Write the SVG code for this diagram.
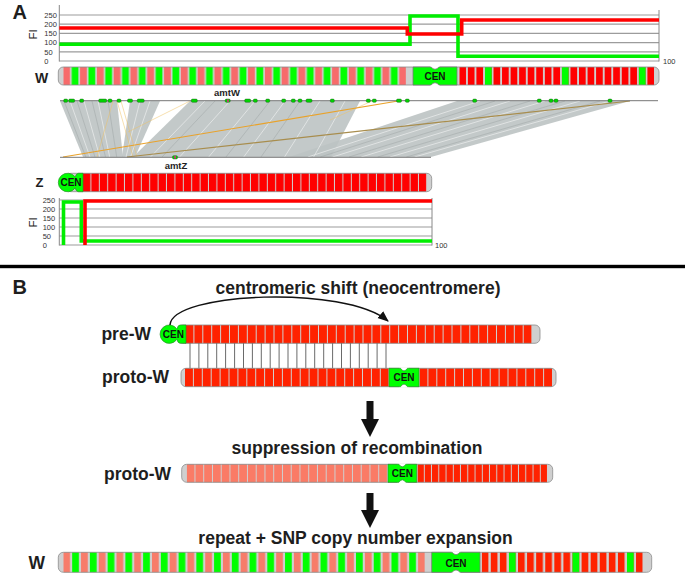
<svg xmlns="http://www.w3.org/2000/svg" width="685" height="574" viewBox="0 0 685 574">
<defs>
<style>
.lbl{font-family:"Liberation Sans",Arial,sans-serif;font-weight:bold;fill:#1e1e1e}
.tick{font-family:"Liberation Sans",Arial,sans-serif;font-size:7.5px;fill:#333}
.fi{font-family:"Liberation Sans",Arial,sans-serif;font-size:11.5px;fill:#222}
.cen{font-family:"Liberation Sans",Arial,sans-serif;font-weight:bold;font-size:10px;fill:#111;text-anchor:middle}
.grid{stroke:#9c9c9c;stroke-width:1.2;fill:none}
.axis{stroke:#888;stroke-width:1;fill:none}
.chr{fill:#cfcfcf}
.out{fill:none;stroke:#8c8c8c;stroke-width:0.8}
.cenA{fill:#00ff00;stroke:#7a7a7a;stroke-width:0.8}
.cenB{fill:#00ff00;stroke:#2c8c2c;stroke-width:0.7}
.rib{fill:#bcc3c3;opacity:0.9}
.wl{stroke:#fff;stroke-width:0.9;opacity:0.55}
.dl{stroke:#98a0a0;stroke-width:0.6;opacity:0.7}
.mk{fill:#00d400;stroke:#1d6a1d;stroke-width:0.5}
.gl{fill:none;stroke:#00ee00;stroke-width:3.6}
.rlin{fill:none;stroke:#ff0000;stroke-width:3.6}
</style>
<pattern id="pSG" width="16.8" height="40" patternUnits="userSpaceOnUse"><rect width="6.7" height="40" fill="#f76b6b"/><rect x="8.4" width="6.7" height="40" fill="#00ff00"/></pattern>
<pattern id="pR1" width="8.55" height="40" patternUnits="userSpaceOnUse"><rect width="6.7" height="40" fill="#ff0000"/></pattern>
<pattern id="pRZ" width="8.4" height="40" patternUnits="userSpaceOnUse"><rect width="7.4" height="40" fill="#ff0000"/></pattern>
<pattern id="pRB" width="8.9" height="40" patternUnits="userSpaceOnUse"><rect width="7.9" height="40" fill="#ff2200"/></pattern>
<pattern id="pRB2" width="7.25" height="40" patternUnits="userSpaceOnUse"><rect width="6.3" height="40" fill="#ff2200"/></pattern>
<pattern id="pSB" width="8.75" height="40" patternUnits="userSpaceOnUse"><rect width="7.75" height="40" fill="#fa7b66"/></pattern>
<pattern id="pSGB" width="17.74" height="40" patternUnits="userSpaceOnUse"><rect width="6.7" height="40" fill="#f77c6a"/><rect x="8.87" width="6.7" height="40" fill="#00ff00"/></pattern>
<pattern id="pRW" width="9.08" height="40" patternUnits="userSpaceOnUse"><rect width="6.7" height="40" fill="#ff2200"/></pattern>
<marker id="ah" markerUnits="userSpaceOnUse" markerWidth="12" markerHeight="10" refX="10" refY="4.5" orient="auto"><path d="M0,0 L11,4.5 L0,9 Z" fill="#111"/></marker>
</defs>
<rect width="685" height="574" fill="#fff"/>

<!-- Panel A -->
<text class="lbl" x="12.5" y="18.5" font-size="20">A</text>

<g id="chartW">
<path class="grid" d="M59.3,15H659M59.3,24.2H659M59.3,33.4H659M59.3,42.6H659M59.3,51.8H659M59.3,61H659"/>
<path class="axis" d="M59.3,5V61.5M659,10V61.5"/>
<text class="tick" x="44.3" y="17.7">250</text>
<text class="tick" x="44.3" y="26.9">200</text>
<text class="tick" x="44.3" y="36.1">150</text>
<text class="tick" x="44.3" y="45.3">100</text>
<text class="tick" x="44.3" y="54.5">50</text>
<text class="tick" x="44.3" y="63.7">0</text>
<text class="tick" x="663" y="64">100</text>
<text class="fi" text-anchor="middle" transform="translate(36.5,34.3) rotate(-90)">FI</text>
<path class="gl" d="M59.3,44.3H410V16H458V56.3H659"/>
<path class="rlin" d="M59.3,28H407.3V34H461.7V20H659"/>
</g>

<g id="chrW-top">
<text class="lbl" x="48.3" y="82.5" font-size="14" text-anchor="end">W</text>
<rect x="58.3" y="67" width="600.7" height="18" rx="5" class="chr"/>
<rect width="342.7" height="18" fill="url(#pSG)" transform="translate(63.3,67)"/>
<rect width="194.8" height="18" fill="url(#pR1)" transform="translate(459.3,67)"/>
<path d="M485,67h6.7v18h-6.7zM561.9,67h6.7v18h-6.7zM638.9,67h6.7v18h-6.7z" fill="#00ff00"/>
<rect x="58.3" y="67" width="600.7" height="18" rx="5" class="out"/>
<path d="M430,66H440V70.5H430ZM430,81.5H440V86H430Z" fill="#fff"/>
<path d="M413,67H431Q435,71.5 439,67H457V85H439Q435,80.5 431,85H413Z" class="cenA"/>
<text class="cen" x="435" y="80.2">CEN</text>
</g>

<g id="synteny">
<polygon class="rib" points="60,101 117,101 123,157 83,157"/>
<polygon class="rib" points="130,101 160,101 135,157 122,157"/>
<polygon class="rib" points="190,101 360,101 331,157 133,157"/>
<polygon class="rib" points="457,101 630,101 431,157 289,157"/>
<path class="wl" d="M70,101L90,157M84,101L99.8,157M98,101L109.7,157M140,101L126,157M150,101L130.5,157M205,101L150.5,157M230,101L179.6,157M255,101L208.7,157M285,101L243.7,157M320,101L284.5,157M345,101L313.6,157M480,101L307.9,157M510,101L332.5,157M545,101L361.2,157M580,101L390,157M610,101L414.6,157"/>
<path class="dl" d="M64,101L85.8,157M77,101L95,157M92,101L105.5,157M108,101L116.7,157M215,101L162,157M270,101L226,157M300,101L261,157M495,101L320.2,157M530,101L349,157M565,101L377.7,157M600,101L406.4,157"/>
<path d="M117,101L133,157M121,101L137,157M113,101L97,157M190,101L128,132M372,101L330,120" stroke="#f0c262" stroke-width="0.6" fill="none" opacity="0.85"/>
<path d="M63,157L398,101" stroke="#e9a22a" stroke-width="1.1" fill="none"/>
<path d="M127,157L630,101" stroke="#a88d4d" stroke-width="1.1" fill="none"/>
<path d="M60,100.7H658M60,157.3H431" stroke="#777" stroke-width="1" fill="none"/>
<g id="markers">
<rect class="mk" x="63.7" y="99.1" width="4" height="3.2" rx="1.2"/>
<rect class="mk" x="68.7" y="99.1" width="6" height="3.2" rx="1.2"/>
<rect class="mk" x="79.7" y="99.1" width="4" height="3.2" rx="1.2"/>
<rect class="mk" x="98.7" y="99.1" width="8" height="3.2" rx="1.2"/>
<rect class="mk" x="108" y="99.1" width="4" height="3.2" rx="1.2"/>
<rect class="mk" x="117" y="99.1" width="4" height="3.2" rx="1.2"/>
<rect class="mk" x="127.5" y="99.1" width="5" height="3.2" rx="1.2"/>
<rect class="mk" x="137.2" y="99.1" width="7" height="3.2" rx="1.2"/>
<rect class="mk" x="191.3" y="99.1" width="6" height="3.2" rx="1.2"/>
<rect class="mk" x="225.2" y="99.1" width="5" height="3.2" rx="1.2"/>
<rect x="227" y="99.4" width="1.8" height="2.6" fill="#d0307a"/>
<rect class="mk" x="244.7" y="99.1" width="6" height="3.2" rx="1.2"/>
<rect class="mk" x="253.3" y="99.1" width="4" height="3.2" rx="1.2"/>
<rect class="mk" x="265.7" y="99.1" width="4" height="3.2" rx="1.2"/>
<rect class="mk" x="281.7" y="99.1" width="4" height="3.2" rx="1.2"/>
<rect class="mk" x="291.3" y="99.1" width="4" height="3.2" rx="1.2"/>
<rect class="mk" x="298" y="99.1" width="4" height="3.2" rx="1.2"/>
<rect class="mk" x="306" y="99.1" width="6" height="3.2" rx="1.2"/>
<rect class="mk" x="330.3" y="99.1" width="4" height="3.2" rx="1.2"/>
<rect class="mk" x="366.3" y="99.1" width="4" height="3.2" rx="1.2"/>
<rect class="mk" x="372.3" y="99.1" width="4" height="3.2" rx="1.2"/>
<rect class="mk" x="396.5" y="99.1" width="5" height="3.2" rx="1.2"/>
<rect class="mk" x="405.3" y="99.1" width="4" height="3.2" rx="1.2"/>
<rect class="mk" x="472.7" y="99.1" width="4" height="3.2" rx="1.2"/>
<rect class="mk" x="537.3" y="99.1" width="4" height="3.2" rx="1.2"/>
<rect class="mk" x="549" y="99.1" width="4" height="3.2" rx="1.2"/>
<rect class="mk" x="554" y="99.1" width="4" height="3.2" rx="1.2"/>
<rect class="mk" x="608" y="99.1" width="4" height="3.2" rx="1.2"/>
<rect class="mk" x="172.5" y="155.7" width="5" height="3.2" rx="1.2"/>
<rect x="174.2" y="156" width="1.8" height="2.6" fill="#d0307a"/>
</g>
<text class="lbl" x="227" y="96" font-size="9.5" text-anchor="middle">amtW</text>
<text class="lbl" x="176" y="168.5" font-size="9.5" text-anchor="middle">amtZ</text>
</g>

<g id="chrZ">
<text class="lbl" x="43.5" y="187" font-size="13" text-anchor="end">Z</text>
<rect x="66" y="173.3" width="365.7" height="18.4" rx="5" class="chr"/>
<rect width="343.4" height="18.4" fill="url(#pRZ)" transform="translate(83,173.3)"/>
<rect x="66" y="173.3" width="365.7" height="18.4" rx="5" class="out"/>
<path d="M83,173.3H78.5Q76,173.5 75.2,177.1A9.3 9.3 0 1 0 75.2,187.9Q76,191.5 78.5,191.7H83Z" class="cenB"/>
<text class="cen" x="71" y="186.3" font-size="9.5">CEN</text>
</g>

<g id="chartZ">
<path class="grid" d="M59.3,200H432M59.3,209H432M59.3,218H432M59.3,227H432M59.3,236H432M59.3,245H432"/>
<path class="axis" d="M59.3,198V245.5M432,198V245.5"/>
<text class="tick" x="42.7" y="202.7">250</text>
<text class="tick" x="42.7" y="211.7">200</text>
<text class="tick" x="42.7" y="220.7">150</text>
<text class="tick" x="42.7" y="229.7">100</text>
<text class="tick" x="42.7" y="238.7">50</text>
<text class="tick" x="42.7" y="247.7">0</text>
<text class="tick" x="435" y="248">100</text>
<text class="fi" text-anchor="middle" transform="translate(36.5,222.5) rotate(-90)">FI</text>
<path class="gl" d="M63.5,245V202H81.3V241H432"/>
<path class="rlin" d="M85,245V201H432"/>
</g>

<rect x="0" y="264.8" width="685" height="3.4" fill="#000"/>

<!-- Panel B -->
<text class="lbl" x="12.5" y="294" font-size="20">B</text>
<text class="lbl" x="358" y="294" font-size="17.5" text-anchor="middle">centromeric shift (neocentromere)</text>

<g id="preW">
<text class="lbl" x="151" y="340" font-size="17.5" text-anchor="end">pre-W</text>
<rect x="178" y="325" width="362" height="18.3" rx="5" class="chr"/>
<rect width="346.1" height="18.3" fill="url(#pRB)" transform="translate(185.5,325)"/>
<rect x="178" y="325" width="362" height="18.3" rx="5" class="out"/>
<path d="M186,325H180Q177.6,325.3 177,329.2A9.2 9.2 0 1 0 177,339.2Q177.6,343 180,343.3H186Z" class="cenB"/>
<text class="cen" x="173.3" y="338">CEN</text>
</g>

<g id="ladder">
<path d="M190,343.3V368.3M198.9,343.3V368.3M207.8,343.3V368.3M216.7,343.3V368.3M225.6,343.3V368.3M234.6,343.3V368.3M243.5,343.3V368.3M252.4,343.3V368.3M261.3,343.3V368.3M270.2,343.3V368.3M279.1,343.3V368.3M288,343.3V368.3M296.9,343.3V368.3M305.8,343.3V368.3M314.7,343.3V368.3M323.7,343.3V368.3M332.6,343.3V368.3M341.5,343.3V368.3M350.4,343.3V368.3M359.3,343.3V368.3M368.2,343.3V368.3M377.1,343.3V368.3M386,343.3V368.3" stroke="#444" stroke-width="0.8" fill="none"/>
</g>

<g id="protoW1">
<text class="lbl" x="169" y="383" font-size="17.5" text-anchor="end">proto-W</text>
<rect x="181" y="368.3" width="375" height="18.4" rx="5" class="chr"/>
<rect width="203.7" height="18.4" fill="url(#pRB)" transform="translate(185,368.3)"/>
<rect width="132.5" height="18.4" fill="url(#pRB)" transform="translate(419.5,368.3)"/>
<rect x="181" y="368.3" width="375" height="18.4" rx="5" class="out"/>
<path d="M399,367.6H409V372H399ZM399,383H409V387.4H399Z" fill="#fff"/>
<path d="M389,368.3H400.5Q404,373.5 407.5,368.3H419V386.7H407.5Q404,381.5 400.5,386.7H389Z" class="cenB"/>
<text class="cen" x="404" y="381.2">CEN</text>
</g>

<text class="lbl" x="357" y="454" font-size="17.5" text-anchor="middle">suppression of recombination</text>

<g id="protoW2">
<text class="lbl" x="171" y="479.5" font-size="17.5" text-anchor="end">proto-W</text>
<rect x="181.7" y="464.3" width="371" height="18" rx="5" class="chr"/>
<rect width="200.25" height="18" fill="url(#pSB)" transform="translate(186.7,464.3)"/>
<rect width="129.55" height="18" fill="url(#pRB2)" transform="translate(417.5,464.3)"/>
<rect x="181.7" y="464.3" width="371" height="18" rx="5" class="out"/>
<path d="M397.4,463.6H407.4V468H397.4ZM397.4,478.6H407.4V483H397.4Z" fill="#fff"/>
<path d="M388,464.3H398.9Q402.35,469.3 405.8,464.3H416.7V482.3H405.8Q402.35,477.3 398.9,482.3H388Z" class="cenB"/>
<text class="cen" x="402.35" y="477">CEN</text>
</g>

<text class="lbl" x="355.5" y="544" font-size="17.5" text-anchor="middle">repeat + SNP copy number expansion</text>

<g id="chrW-bottom">
<text class="lbl" x="45" y="569" font-size="17.5" text-anchor="end">W</text>
<rect x="58.3" y="552.3" width="593.4" height="20" rx="5" class="chr"/>
<rect width="361.5" height="20" fill="url(#pSGB)" transform="translate(63.3,552.3)"/>
<rect width="161.06" height="20" fill="url(#pRW)" transform="translate(481.7,552.3)"/>
<path d="M508.94,552.3h6.7v20h-6.7zM572.5,552.3h6.7v20h-6.7zM626.98,552.3h6.7v20h-6.7z" fill="#00ff00"/>
<rect x="58.3" y="552.3" width="593.4" height="20" rx="5" class="out"/>
<path d="M451,551.6H461V556.3H451ZM451,568.3H461V573H451Z" fill="#fff"/>
<path d="M431.7,552.3H452Q456,557 460,552.3H480V572.3H460Q456,567.6 452,572.3H431.7Z" class="cenA"/>
<text class="cen" x="456" y="566.5">CEN</text>
</g>

<g id="connectors">
<path d="M170,325C172,292 345,285 388,321" fill="none" stroke="#111" stroke-width="1.5" marker-end="url(#ah)"/>
<polygon points="366.5,401 373.5,401 373.5,419 379,419 370,437 361,419 366.5,419" fill="#111"/>
<polygon points="366.5,493 373.5,493 373.5,510 379,510 370,528 361,510 366.5,510" fill="#111"/>
</g>
</svg>
